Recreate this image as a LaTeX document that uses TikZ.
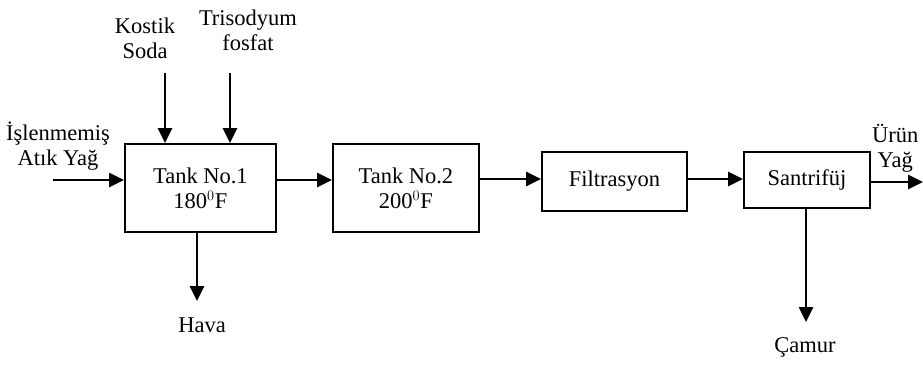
\documentclass[tikz,border=0pt]{standalone}
\usepackage{fontspec}
\setmainfont{Liberation Serif}
\usetikzlibrary{arrows.meta}
\begin{document}
\begin{tikzpicture}[x=1pt,y=-1pt,
  every node/.style={font=\fontsize{22.5}{25}\selectfont, inner sep=0pt},
  unit/.style={draw, line width=1.8pt, anchor=north west},
  label/.style={align=center},
  flow/.style={line width=2.6pt, -{Triangle[length=15pt,width=14pt]}}]
\useasboundingbox (0,0) rectangle (923,365);

% process units
\node[unit, minimum width=151pt, minimum height=88pt] (t1) at (124,143) {};
\node[align=center] at (t1.center) {Tank No.1\\180$^{0}$F};
\node[unit, minimum width=146pt, minimum height=88pt] (t2) at (332,143) {};
\node[align=center] at (t2.center) {Tank No.2\\200$^{0}$F};
\node[unit, minimum width=145pt, minimum height=59pt] (f) at (541,151) {};
\node at (f.center) {Filtrasyon};
\node[unit, minimum width=126pt, minimum height=56pt] (s) at (743,151) {};
\node at (s.center) {Santrifüj};

% stream labels
\node[label] (ks) at (145,38) {Kostik\\Soda};
\node[label] (tp) at (248,30) {Trisodyum\\fosfat};
\node[label] (ham) at (58,146) {İşlenmemiş\\Atık Yağ};
\node (hava) at (202,325) {Hava};
\node (camur) at (805,347) {Çamur};
\node[label, anchor=west] (urun) at (872,148) {Ürün\\Yağ};

% free ends of streams
\coordinate (inA) at (53,180);
\coordinate (ksA) at (165,73);
\coordinate (tpA) at (230,73);
\coordinate (havaB) at (197,301);
\coordinate (camurB) at (806,322);
\coordinate (outB) at (923,182);

% streams
\draw[flow] (inA) -- (inA -| t1.west);
\draw[flow] (ksA) -- (ksA |- t1.north);
\draw[flow] (tpA) -- (tpA |- t1.north);
\draw[flow] (t1.east |- 0,180) -- (t2.west |- 0,180);
\draw[flow] (t2.east |- 0,179) -- (f.west |- 0,179);
\draw[flow] (f.east |- 0,179) -- (s.west |- 0,179);
\draw[flow] (s.east |- outB) -- (outB);
\draw[flow] (havaB |- t1.south) -- (havaB);
\draw[flow] (camurB |- s.south) -- (camurB);
\end{tikzpicture}
\end{document}
